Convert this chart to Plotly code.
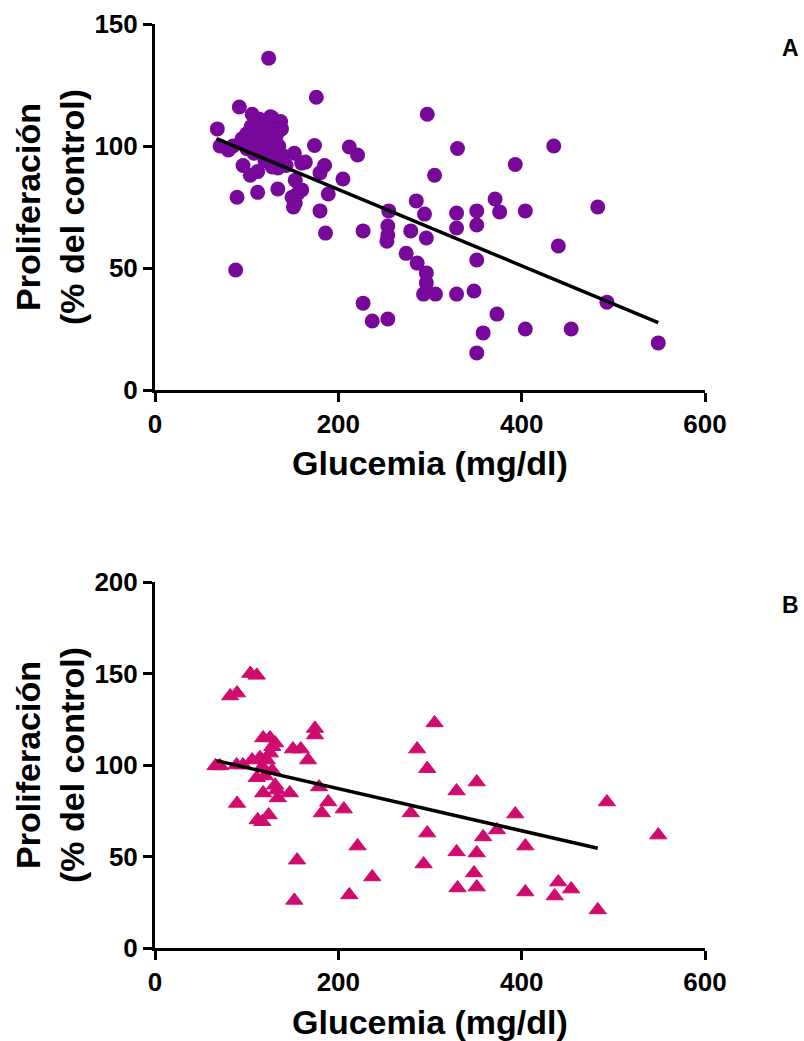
import plotly.graph_objects as go

# ---------------- Data: panel A (circles) ----------------
glucA = [68, 71, 124, 92, 106, 176, 297, 212, 221, 330, 435, 393, 305, 205, 174,
         160, 185, 180, 189, 180, 186, 227, 255, 254, 254, 253, 285, 294, 279, 296,
         274, 286, 296, 296, 293, 306, 329, 329, 351, 351, 371, 376, 404, 483, 440,
         351, 329, 348, 493, 227, 237, 254, 373, 358, 404, 454, 351, 549, 128, 137,
         80, 96, 104, 112, 89.5, 112, 134, 134, 152, 164, 153, 160, 149.5, 153, 151,
         156, 88,
         95, 100, 103, 105, 108, 110, 112, 115, 118, 120, 122, 125, 127, 130, 132,
         135, 138, 140, 117, 108, 100, 126, 114, 120, 127, 85, 138, 143, 128]
prolA = [107, 100, 136, 116, 113, 120, 113, 99.6, 96.3, 99, 100, 92.4, 88, 86.5, 100.2,
         93, 92, 89, 80.3, 73.4, 64.3, 65.2, 73.4, 67.2, 63.5, 61, 77.5, 72.1, 65.2, 62.3,
         56, 52, 48, 43.9, 39.3, 39.3, 72.5, 66.4, 73.4, 67.6, 78.3, 73, 73.4, 75, 59,
         53.3, 39.3, 40.6, 36, 35.6, 28.3, 29.1, 31.1, 23.4, 25, 25, 15.2, 19.3, 111.5, 110,
         98.4, 92, 88, 89.5, 79, 81, 82.4, 91, 97, 93.4, 86, 82, 79, 76.6, 75,
         80.7, 49.2,
         103, 105, 101, 108, 104, 100, 106, 102, 109, 104, 99, 106, 101, 97, 104,
         100, 107, 96, 97, 97, 99, 112, 111, 94, 93, 100, 95, 92, 91.4]
fitA_x = [67, 549]
fitA_y = [103, 27.6]

# ---------------- Data: panel B (triangles) ----------------
glucB = [104, 111, 82, 89.5, 118, 125.5, 131, 174.5, 174.5, 150.5, 159, 167, 286, 305,
         297, 179, 189, 182, 206, 279, 329, 351, 493, 393, 373, 358, 549, 297, 221,
         329, 351, 404, 155, 293, 237, 348, 212, 330, 351, 404, 440, 436, 454, 483,
         152, 66, 71, 89, 96, 106, 114.5, 122, 125.5, 128, 111, 118, 131, 134, 147,
         89.5, 124, 112, 117, 133, 117, 128, 120]
prolB = [150, 149, 137.7, 139.3, 114.8, 114.8, 112, 120, 116.4, 108.7, 108.7, 102.7, 108.7, 123,
         98, 88, 79.8, 73.8, 75.9, 73.8, 85.8, 90.7, 79.8, 73.2, 64.5, 60.7, 61.7, 62.8, 55.7,
         52.5, 51.9, 55.7, 48, 45.9, 38.8, 41, 29, 32.8, 33.3, 30.6, 36, 28.4, 32.2, 20.8,
         26, 99.5, 99.5, 100, 100, 102.7, 104, 102.7, 106.5, 110, 93, 84.7, 89, 82, 84.7,
         79, 72.7, 70, 69, 86.3, 99, 97, 94]
fitB_x = [67, 483]
fitB_y = [102.4, 54.5]

xticks = [0, 200, 400, 600]
yticksA = [0, 50, 100, 150]
yticksB = [0, 50, 100, 150, 200]

PURPLE = "#77089A"
MAGENTA = "#D10A6D"
FONT = "Liberation Sans"

fig = go.Figure()
fig.add_trace(go.Scatter(x=glucA, y=prolA, mode="markers", xaxis="x", yaxis="y",
                         marker=dict(symbol="circle", size=15, color=PURPLE, line=dict(width=0)),
                         cliponaxis=False, showlegend=False))
fig.add_trace(go.Scatter(x=fitA_x, y=fitA_y, mode="lines", xaxis="x", yaxis="y",
                         line=dict(color="black", width=3.5), showlegend=False))
fig.add_trace(go.Scatter(x=glucB, y=prolB, mode="markers", xaxis="x2", yaxis="y2",
                         marker=dict(symbol="triangle-up", size=15, color=MAGENTA,
                                     line=dict(width=1, color=MAGENTA)),
                         cliponaxis=False, showlegend=False))
fig.add_trace(go.Scatter(x=fitB_x, y=fitB_y, mode="lines", xaxis="x2", yaxis="y2",
                         line=dict(color="black", width=3.5), showlegend=False))

W, H = 804, 1041
xdom = [155 / W, 705 / W]
ydomA = [1 - 390 / H, 1 - 24 / H]
ydomB = [1 - 948 / H, 1 - 582 / H]

tickfont = dict(family=FONT, size=26, color="black", weight="bold")
axcommon = dict(showline=True, linecolor="black", linewidth=3, ticks="outside",
                ticklen=9, tickwidth=3, tickcolor="black", showgrid=False,
                zeroline=False, tickfont=tickfont, fixedrange=True, automargin=False)

fig.update_layout(
    width=W, height=H,
    margin=dict(l=0, r=0, t=0, b=0),
    paper_bgcolor="white", plot_bgcolor="white",
    xaxis=dict(domain=xdom, range=[0, 600], tickvals=xticks, anchor="y", **axcommon),
    yaxis=dict(domain=ydomA, range=[0, 150], tickvals=yticksA, anchor="x", **axcommon),
    xaxis2=dict(domain=xdom, range=[0, 600], tickvals=xticks, anchor="y2", **axcommon),
    yaxis2=dict(domain=ydomB, range=[0, 200], tickvals=yticksB, anchor="x2", **axcommon),
)

titlefont = dict(family=FONT, size=34, color="black", weight="bold")
ann = []
for yc in (463, 1022):
    ann.append(dict(text="Glucemia (mg/dl)", x=430 / W, y=1 - yc / H, xref="paper", yref="paper",
                    xanchor="center", yanchor="middle", showarrow=False, font=titlefont))
for yc in (207, 765):
    ann.append(dict(text="Proliferación<br>(% del control)", x=50 / W, y=1 - yc / H,
                    xref="paper", yref="paper", xanchor="center", yanchor="middle",
                    textangle=-90, showarrow=False, font=titlefont))
for lab, yc in (("A", 48), ("B", 605)):
    ann.append(dict(text=lab, x=790 / W, y=1 - yc / H, xref="paper", yref="paper",
                    xanchor="center", yanchor="middle", showarrow=False,
                    font=dict(family=FONT, size=23, color="black", weight="bold")))
fig.update_layout(annotations=ann)

fig.write_html("out.html")
